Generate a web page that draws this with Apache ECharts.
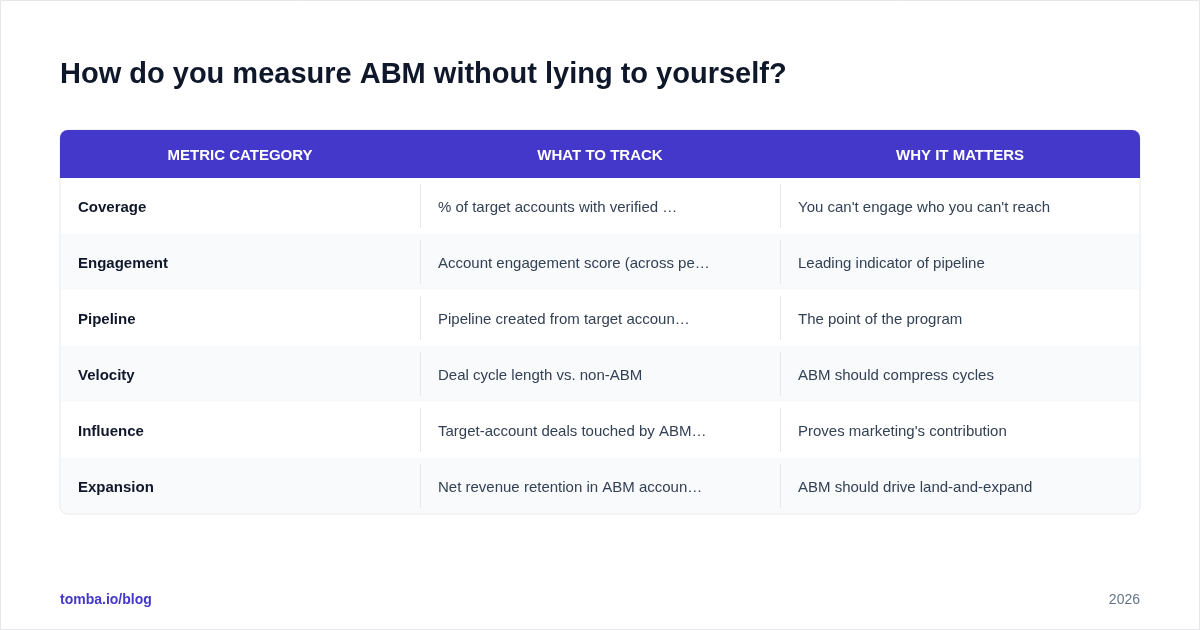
<!DOCTYPE html>
<html style="height: 100%">
<head>
    <meta charset="utf-8">
    <script src="https://cdn.jsdelivr.net/npm/echarts@6/dist/echarts.min.js"></script>
</head>
<body style="height: 100%; margin: 0; background: #fff">
    <div id="main" style="width:1200px;height:630px;"></div>
    <script type="text/javascript">
    var titleText = 'How do you measure ABM without lying to yourself?';
    var headers = ['METRIC CATEGORY', 'WHAT TO TRACK', 'WHY IT MATTERS'];
    var categories = ['Coverage', 'Engagement', 'Pipeline', 'Velocity', 'Influence', 'Expansion'];
    var whatToTrack = [
        '% of target accounts with verified \u2026',
        'Account engagement score (across pe\u2026',
        'Pipeline created from target accoun\u2026',
        'Deal cycle length vs. non-ABM',
        'Target-account deals touched by ABM\u2026',
        'Net revenue retention in ABM accoun\u2026'
    ];
    var whyItMatters = [
        "You can't engage who you can't reach",
        'Leading indicator of pipeline',
        'The point of the program',
        'ABM should compress cycles',
        "Proves marketing's contribution",
        'ABM should drive land-and-expand'
    ];
    var footerLeft = 'tomba.io/blog';
    var footerRight = '2026';

    var myChart = echarts.init(document.getElementById('main'));
    var font = 'Liberation Sans, Arial, sans-serif';
    var L = 60, R = 1140, headTop = 130, headH = 48, rowH = 56;
    var colX = [60, 420, 780, 1140];
    var dy = 2; // nudge text down to match baseline
    var els = [];

    // page border
    els.push({ type: 'rect', shape: { x: 0.5, y: 0.5, width: 1199, height: 629 },
        style: { fill: '#fff', stroke: '#e5e7eb', lineWidth: 1 } });
    els.push({ type: 'text', x: L, y: 75, style: { text: titleText, fill: '#0f172a',
        font: 'bold 29px ' + font, textVerticalAlign: 'middle', textAlign: 'left' } });

    var tableBottom = headTop + headH + rowH * categories.length;
    els.push({ type: 'rect', shape: { x: L, y: headTop, width: R - L, height: tableBottom - headTop, r: 8 },
        style: { fill: '#fff', stroke: '#e5e7eb', lineWidth: 1 } });
    categories.forEach(function (c, i) {
        var y = headTop + headH + i * rowH;
        if (i % 2 === 1) {
            els.push({ type: 'rect', shape: { x: L + 1, y: y, width: R - L - 2, height: rowH - (i === categories.length - 1 ? 1 : 0),
                r: i === categories.length - 1 ? [0, 0, 8, 8] : 0 }, style: { fill: '#f8fafc' } });
        }
        var cells = [c, whatToTrack[i], whyItMatters[i]];
        cells.forEach(function (t, j) {
            els.push({ type: 'text', x: colX[j] + 18, y: y + rowH / 2 + dy, style: { text: t,
                fill: j === 0 ? '#0f172a' : '#334155', font: (j === 0 ? 'bold ' : '') + '15px ' + font,
                textVerticalAlign: 'middle', textAlign: 'left' } });
            if (j > 0) {
                els.push({ type: 'line', shape: { x1: colX[j] + 0.5, y1: y + 6, x2: colX[j] + 0.5, y2: y + rowH - 6 },
                    style: { stroke: '#e5e7eb', lineWidth: 1 } });
            }
        });
    });
    els.push({ type: 'rect', shape: { x: L, y: headTop, width: R - L, height: headH, r: [8, 8, 0, 0] },
        style: { fill: '#4338ca' } });
    headers.forEach(function (h, j) {
        els.push({ type: 'text', x: (colX[j] + colX[j + 1]) / 2, y: headTop + headH / 2 + dy, style: { text: h,
            fill: '#fff', font: 'bold 15px ' + font, textVerticalAlign: 'middle', textAlign: 'center' } });
    });
    els.push({ type: 'text', x: L, y: 600, style: { text: footerLeft, fill: '#4338ca',
        font: 'bold 14px ' + font, textVerticalAlign: 'middle', textAlign: 'left' } });
    els.push({ type: 'text', x: R, y: 600, style: { text: footerRight, fill: '#64748b',
        font: '14px ' + font, textVerticalAlign: 'middle', textAlign: 'right' } });

    myChart.setOption({ animation: false, graphic: { elements: els } });
    </script>
</body>
</html>
